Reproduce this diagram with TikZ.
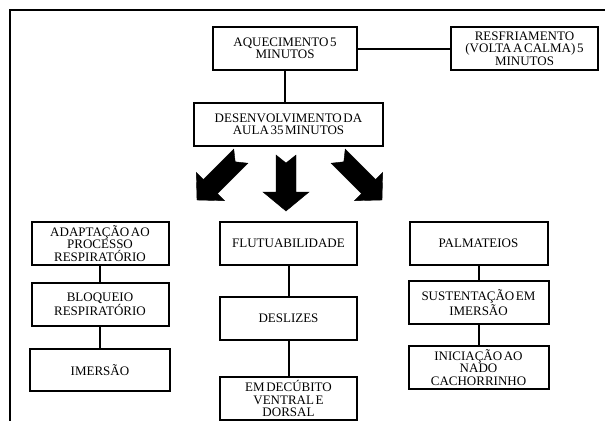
\documentclass[tikz,border=0pt]{standalone}
\usepackage{fontspec}
\setmainfont{Liberation Serif}[WordSpace=0.5]
\usetikzlibrary{positioning}
\tikzset{
	caixa/.style={
		rectangle,
		draw=black, line width=2pt,
		minimum width=137pt,
		minimum height=43pt,
		inner sep=1pt,
		align=center,
		font=\fontsize{13}{12.3}\selectfont},
	ligacao/.style={draw, line width=2pt},
	seta/.style={fill=black, draw=black, line width=0.4pt, line join=miter},
}
% block arrow: tip, angle, length, half width of head
\newcommand{\blocoseta}[4]{%
	\fill[seta, shift={#1}, rotate=#2] (0,0) -- (#4,-19) -- (10,-19) -- (10,-#3)
		-- (0,-#3+8) -- (-10,-#3) -- (-10,-19) -- (-#4,-19) -- cycle;}

\begin{document}
\begin{tikzpicture}[x=1pt, y=-1pt]
	\useasboundingbox (0,0) rectangle (605,421);
	% frame
	\draw[line width=2pt] (605,10) -- (10,10) -- (10,421);

	\node[caixa, minimum width=144pt] (aquec) at (285,48.5) {AQUECIMENTO 5\\MINUTOS};
	\node[caixa, minimum width=147pt] (resfr) at (524.5,48.5) {RESFRIAMENTO\\(VOLTA A CALMA) 5\\MINUTOS};
	\node[caixa, minimum width=189pt] (desenv) at (288.5,124.5) {DESENVOLVIMENTO DA\\AULA 35 MINUTOS};

	\blocoseta{(197,200)}{-45}{62}{20}
	\blocoseta{(286,211)}{0}{56}{23}
	\blocoseta{(382,200)}{45}{62}{20}

	\node[caixa] (adapt) at (100,243.5) {ADAPTAÇÃO AO\\PROCESSO\\RESPIRATÓRIO};
	\node[caixa, below=16pt of adapt] (bloq) {BLOQUEIO\\RESPIRATÓRIO};
	\node[caixa, minimum width=140pt, minimum height=42pt, below=21pt of bloq] (imers) {IMERSÃO};

	\node[caixa] (flut) at (288.5,243.5) {FLUTUABILIDADE};
	\node[caixa, below=30pt of flut] (desl) {DESLIZES};
	\node[caixa, below=35pt of desl] (decub) {EM DECÚBITO\\VENTRAL E\\DORSAL};

	\node[caixa, minimum width=138pt] (palm) at (478.5,243.5) {PALMATEIOS};
	\node[caixa, minimum width=140pt, below=14pt of palm] (sust) {SUSTENTAÇÃO EM\\IMERSÃO};
	\node[caixa, minimum width=140pt, below=20pt of sust] (inic) {INICIAÇÃO AO\\NADO\\CACHORRINHO};

	\draw[ligacao] (aquec) -- (resfr);
	\draw[ligacao] (aquec) -- (aquec |- desenv.north);
	\draw[ligacao] (adapt) -- (bloq);
	\draw[ligacao] (bloq) -- (imers);
	\draw[ligacao] (flut) -- (desl);
	\draw[ligacao] (desl) -- (decub);
	\draw[ligacao] (palm) -- (sust);
	\draw[ligacao] (sust) -- (inic);
\end{tikzpicture}
\end{document}
